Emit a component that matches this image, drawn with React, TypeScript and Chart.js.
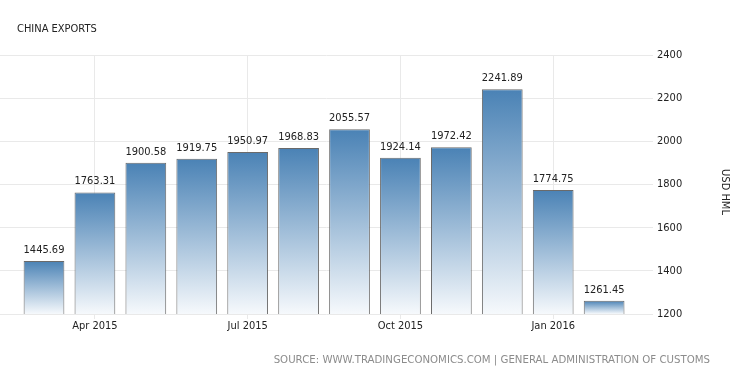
import React, { useEffect, useRef } from "react";
import { Chart, registerables } from "chart.js";

Chart.register(...registerables);

const months = [
  "Mar 2015", "Apr 2015", "May 2015", "Jun 2015", "Jul 2015", "Aug 2015",
  "Sep 2015", "Oct 2015", "Nov 2015", "Dec 2015", "Jan 2016", "Feb 2016",
];
const exportValues = [
  1445.69, 1763.31, 1900.58, 1919.75, 1950.97, 1968.83,
  2055.57, 1924.14, 1972.42, 2241.89, 1774.75, 1261.45,
];
const xTickLabels = ["Apr 2015", "Jul 2015", "Oct 2015", "Jan 2016"];
const yMin = 1200;
const yMax = 2400;
const yStep = 200;
const titleText = "CHINA EXPORTS";
const yAxisTitle = "USD HML";
const sourceText = "SOURCE: WWW.TRADINGECONOMICS.COM | GENERAL ADMINISTRATION OF CUSTOMS";

const FONT = "'DejaVu Sans Condensed', 'DejaVu Sans', sans-serif";
const TEXT = "#222222";
const GRID = "#e9e9e9";

export default function App() {
  const ref = useRef<HTMLCanvasElement | null>(null);

  useEffect(() => {
    if (!ref.current) return;
    const tickPositions = xTickLabels.map((l) => months.indexOf(l));

    const textPlugin = {
      id: "staticText",
      afterDraw(chart: any) {
        const c = chart.ctx;
        c.save();
        c.fillStyle = TEXT;
        c.font = `11px ${FONT}`;
        c.textAlign = "left";
        c.textBaseline = "alphabetic";
        c.fillText(titleText, 17, 32);
        // rotated y-axis title
        c.save();
        c.translate(725, 192);
        c.rotate(Math.PI / 2);
        c.textAlign = "center";
        c.textBaseline = "middle";
        c.fillText(yAxisTitle, 0, 0);
        c.restore();
        c.fillStyle = "#8c8c8c";
        c.font = `10.2px 'DejaVu Sans', sans-serif`;
        c.textAlign = "right";
        c.textBaseline = "alphabetic";
        c.fillText(sourceText, 710, 363);
        c.restore();
      },
    };

    const valuePlugin = {
      id: "valueLabels",
      afterDatasetsDraw(chart: any) {
        const c = chart.ctx;
        const meta = chart.getDatasetMeta(0);
        c.save();
        c.fillStyle = TEXT;
        c.font = `11px ${FONT}`;
        c.textAlign = "center";
        c.textBaseline = "alphabetic";
        meta.data.forEach((el: any, i: number) => {
          c.fillText(exportValues[i].toFixed(2), el.x, el.y - 8);
        });
        c.restore();
      },
    };

    const chart = new Chart(ref.current, {
      type: "bar",
      data: {
        datasets: [
          {
            data: exportValues.map((v, i) => ({ x: i, y: v })),
            backgroundColor: (ctx: any) => {
              const ch = ctx.chart;
              if (!ch.chartArea || !ctx.raw) return "#5a8fc0";
              const ys = ch.scales.y;
              const top = ys.getPixelForValue(ctx.raw.y);
              const bottom = ys.getPixelForValue(yMin);
              const g = ch.ctx.createLinearGradient(0, top, 0, bottom);
              g.addColorStop(0, "#4a82b5");
              g.addColorStop(1, "#f6f9fc");
              return g;
            },
            borderColor: "#6a6a6a",
            borderWidth: 1,
            borderSkipped: false,
            barPercentage: 0.8,
            categoryPercentage: 1,
          },
        ],
      },
      options: {
        responsive: false,
        animation: false,
        layout: { padding: { left: 0, right: 0, top: 55, bottom: 39 } },
        plugins: {
          legend: { display: false },
          tooltip: { enabled: false },
          title: { display: false },
        },
        scales: {
          x: {
            type: "linear",
            offset: false,
            min: -0.864,
            max: 11.96,
            afterBuildTicks: (axis: any) => {
              axis.ticks = tickPositions.map((v) => ({ value: v }));
            },
            afterFit: (s: any) => {
              s.height = 25;
            },
            ticks: {
              autoSkip: false,
              maxRotation: 0,
              padding: 1,
              color: TEXT,
              font: { family: FONT, size: 11 },
              callback: (v: any) => months[Math.round(Number(v))],
            },
            grid: { color: GRID, tickLength: 5, drawTicks: true, offset: false },
            border: { display: false },
          },
          y: {
            position: "right",
            min: yMin,
            max: yMax,
            afterFit: (s: any) => {
              s.width = 97;
            },
            ticks: {
              stepSize: yStep,
              padding: 4,
              color: TEXT,
              font: { family: FONT, size: 11 },
              callback: (v: any) => String(v),
            },
            grid: { color: GRID, drawTicks: false },
            border: { display: false },
            title: { display: false },
          },
        },
      },
      plugins: [valuePlugin, textPlugin],
    });
    return () => chart.destroy();
  }, []);

  return (
    <div style={{ position: "absolute", left: 0, top: 0, width: 750, height: 378, background: "#fff" }}>
      <canvas ref={ref} width={750} height={378} style={{ width: 750, height: 378, display: "block" }} />
    </div>
  );
}
